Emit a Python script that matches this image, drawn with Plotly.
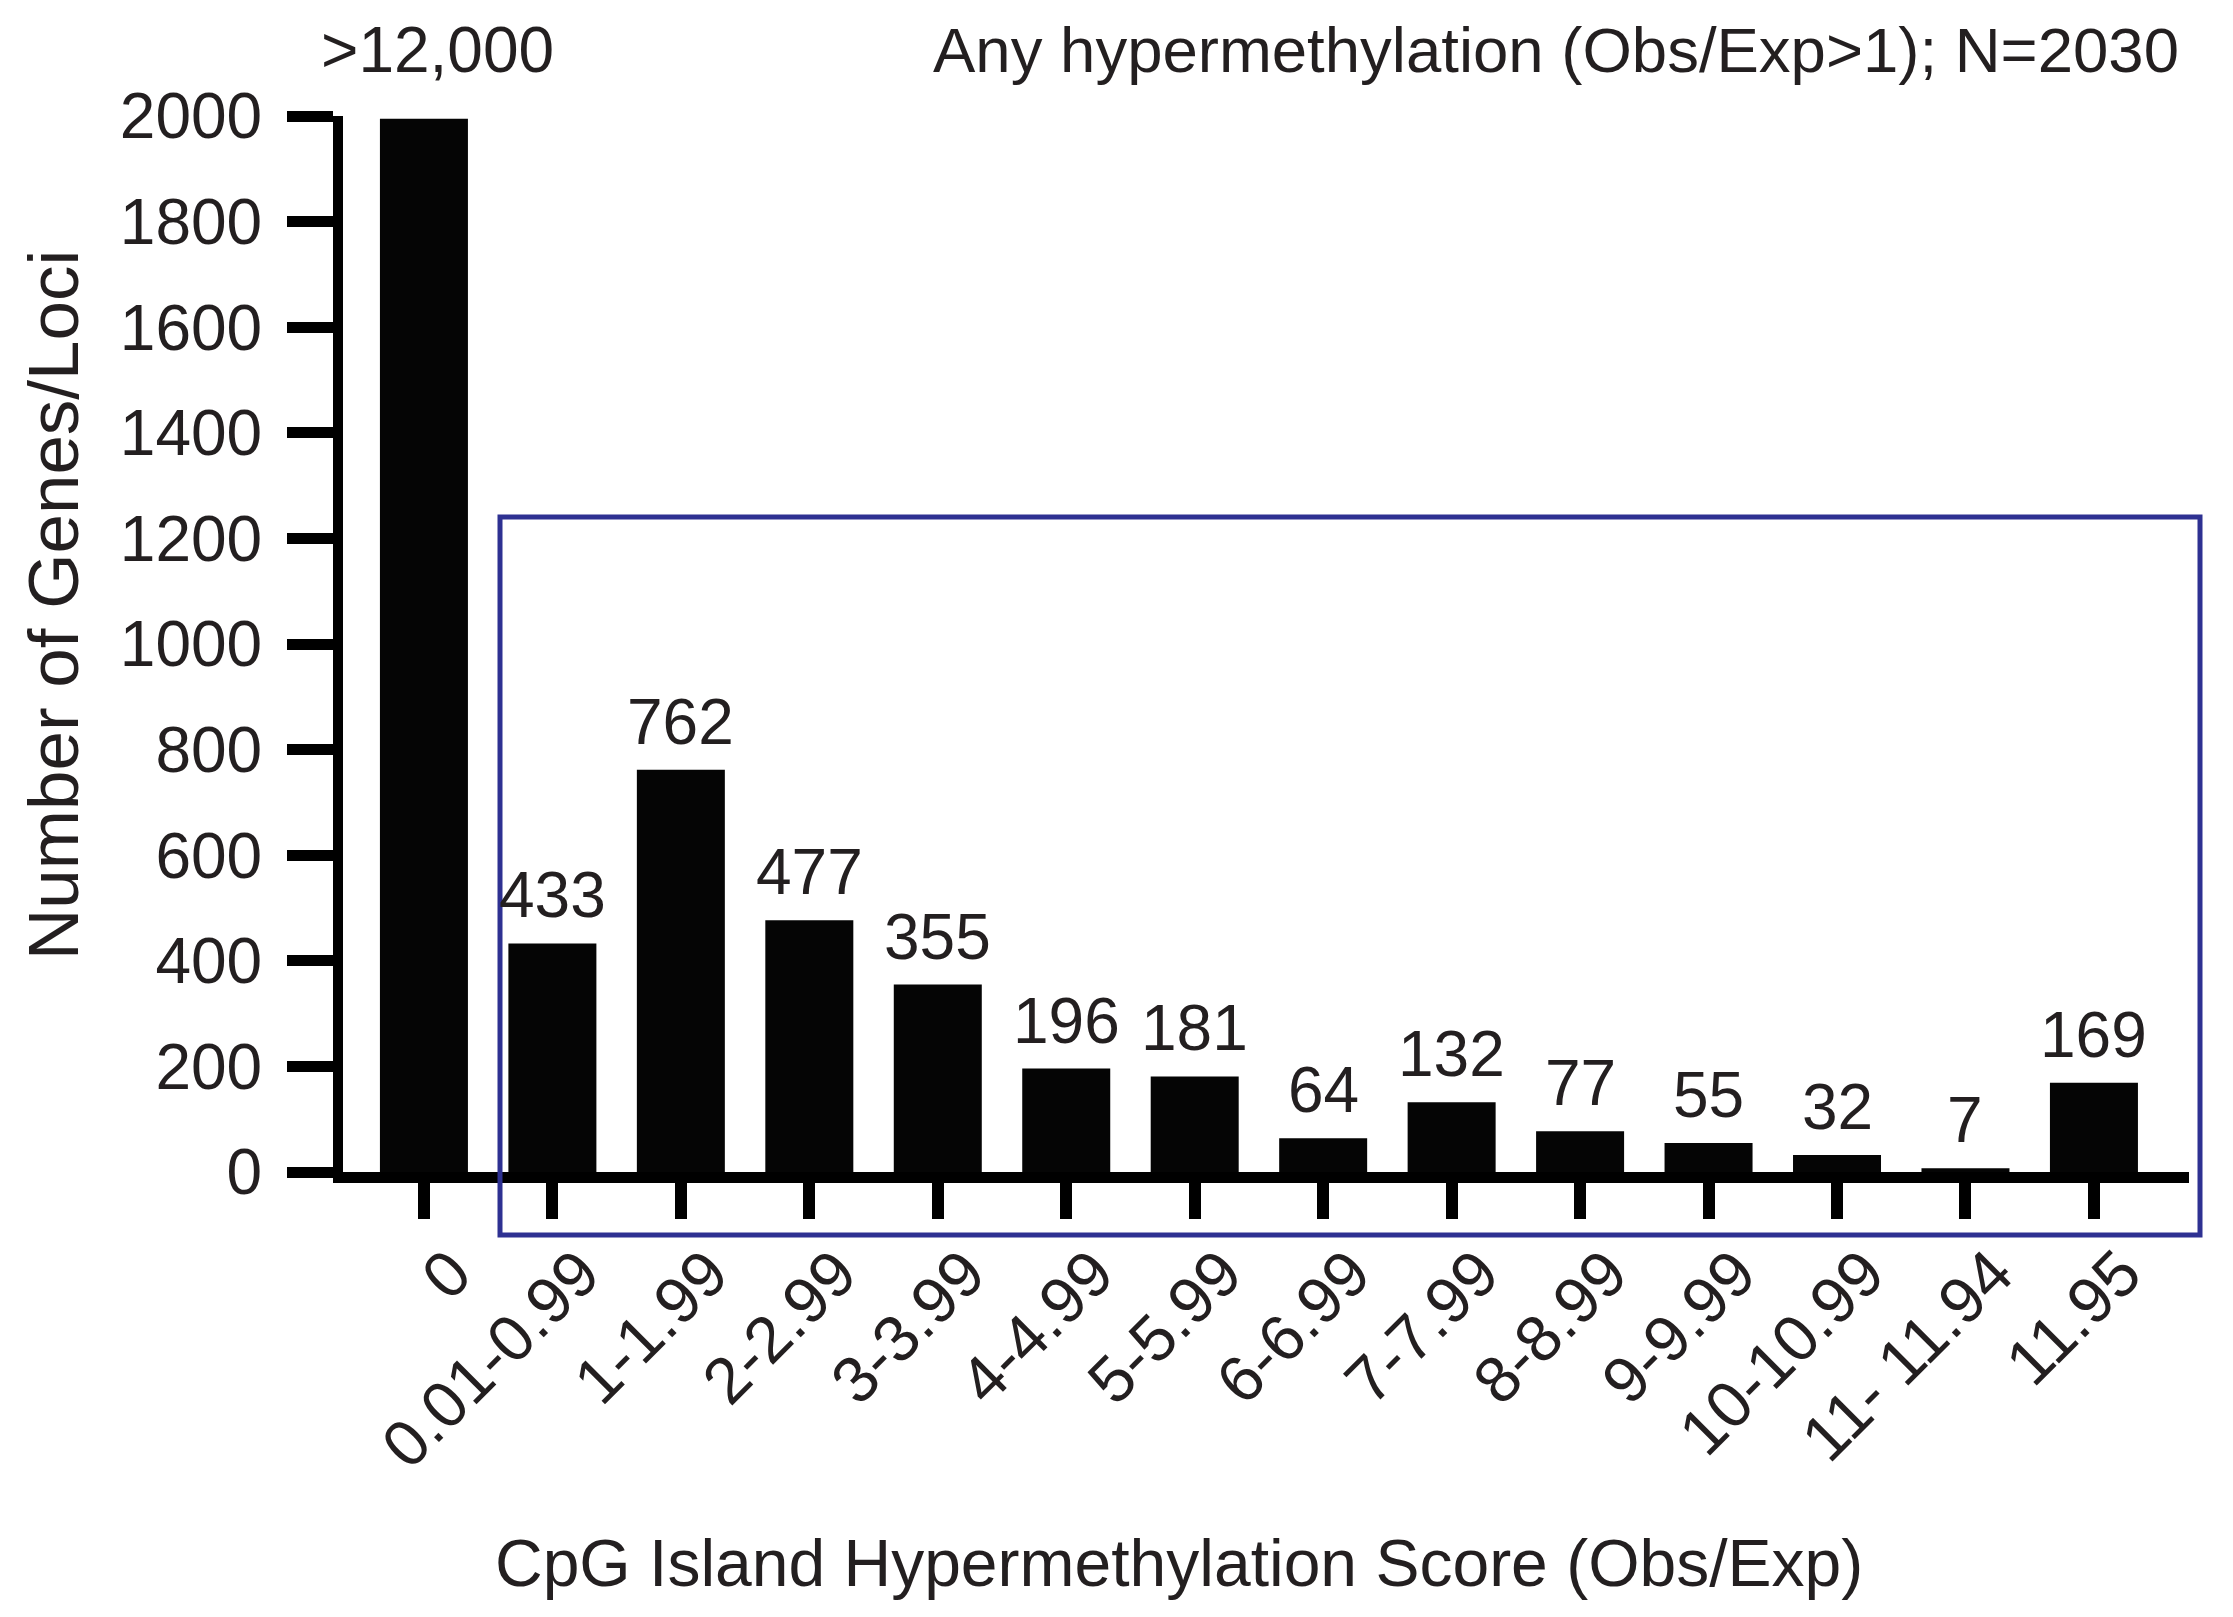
import plotly.graph_objects as go

categories = ["0", "0.01-0.99", "1-1.99", "2-2.99", "3-3.99", "4-4.99", "5-5.99",
              "6-6.99", "7-7.99", "8-8.99", "9-9.99", "10-10.99", "11- 11.94", "11.95"]
counts = [1995, 433, 762, 477, 355, 196, 181, 64, 132, 77, 55, 32, 7, 169]
labels = [">12,000", "433", "762", "477", "355", "196", "181", "64", "132", "77", "55", "32", "7", "169"]
y_ticks = [0, 200, 400, 600, 800, 1000, 1200, 1400, 1600, 1800, 2000]

FONT = "Arial, Liberation Sans, Helvetica, sans-serif"
TXT = "#231f20"

W, H = 2233, 1617
OFF = 8  # page body margin
L, R, T, B = 335, 2181, 108, 1164
pw, ph = R - L, B - T


def px(xp):  # page x -> paper x
    return (xp - OFF - L) / pw


def py(yp):  # page y -> paper y
    return (B - (yp - OFF)) / ph


fig = go.Figure()
fig.add_trace(go.Bar(
    x=categories, y=counts, width=0.685,
    marker=dict(color="#050505", line=dict(width=0)),
    showlegend=False, hoverinfo="skip",
))

annotations = []
for i, (v, lab) in enumerate(zip(counts, labels)):
    if i == 0:
        annotations.append(dict(x=i, y=py(50), xref="x", yref="paper",
                                text=lab, showarrow=False, xanchor="center", yanchor="middle",
                                xshift=14, font=dict(size=64, color=TXT, family=FONT)))
    else:
        annotations.append(dict(x=i, y=v, xref="x", yref="y", text=lab, showarrow=False,
                                xanchor="center", yanchor="middle", yshift=48,
                                font=dict(size=64, color=TXT, family=FONT)))

annotations.append(dict(x=px(2181), y=py(50), xref="paper", yref="paper",
                        text="Any hypermethylation (Obs/Exp>1); N=2030", showarrow=False,
                        xanchor="right", yanchor="middle",
                        font=dict(size=63.5, color=TXT, family=FONT)))
annotations.append(dict(x=px(1179), y=py(1563), xref="paper", yref="paper",
                        text="CpG Island Hypermethylation Score (Obs/Exp)", showarrow=False,
                        xanchor="center", yanchor="middle",
                        font=dict(size=66, color=TXT, family=FONT)))
annotations.append(dict(x=px(53), y=py(605), xref="paper", yref="paper",
                        text="Number of Genes/Loci", showarrow=False, textangle=-90,
                        xanchor="center", yanchor="middle",
                        font=dict(size=71, color=TXT, family=FONT)))

shapes = [dict(type="rect", xref="paper", yref="paper",
               x0=px(500), x1=px(2200), y0=py(1235), y1=py(517),
               line=dict(color="#2e3192", width=5), fillcolor="rgba(0,0,0,0)", layer="above")]

fig.update_layout(
    width=W, height=H,
    margin=dict(l=L, r=W - R, t=T, b=H - B, pad=0),
    plot_bgcolor="white", paper_bgcolor="white",
    font=dict(family=FONT, size=64, color=TXT),
    annotations=annotations, shapes=shapes,
    xaxis=dict(
        type="category", categoryorder="array", categoryarray=categories,
        range=[-0.63, 13.74], showgrid=False, zeroline=False,
        showline=True, linecolor="black", linewidth=11,
        ticks="outside", ticklen=36, tickwidth=12, tickcolor="black",
        tickangle=-45, tickfont=dict(size=65, color=TXT, family=FONT),
        ticklabelstandoff=-10, ticklabelshift=28,
    ),
    yaxis=dict(
        range=[0, 2000], tickvals=y_ticks, ticktext=[str(t) for t in y_ticks],
        showgrid=False, zeroline=False,
        showline=True, linecolor="black", linewidth=10,
        ticks="outside", ticklen=46, tickwidth=11, tickcolor="black",
        tickfont=dict(size=64, color=TXT, family=FONT),
        ticklabelstandoff=12,
    ),
)

fig.write_html("out.html")
